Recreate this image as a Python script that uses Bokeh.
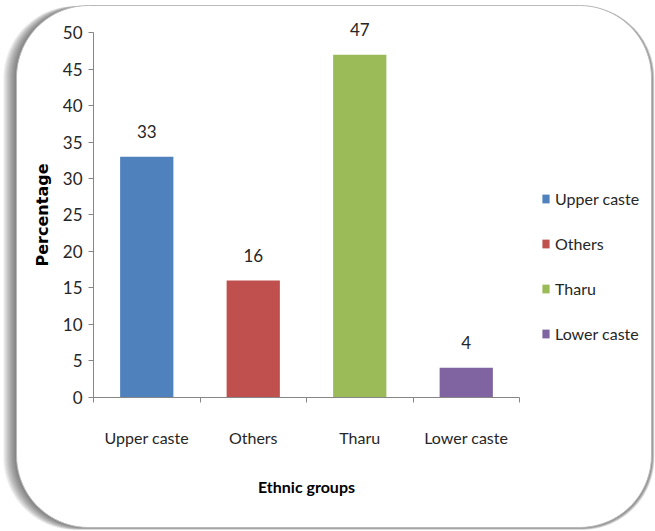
import numpy as np
from bokeh.plotting import figure
from bokeh.models import (Range1d, LinearAxis, FixedTicker, Legend, LegendItem,
                          ColumnDataSource)
from bokeh.core.properties import value
from bokeh.embed import file_html
from bokeh.resources import INLINE

# ---- data -------------------------------------------------------------
groups = ["Upper caste", "Others", "Tharu", "Lower caste"]
percentages = [33, 16, 47, 4]
bar_colors = ["#4F81BD", "#C0504D", "#9BBB59", "#8064A2"]
y_ticks = [0, 5, 10, 15, 20, 25, 30, 35, 40, 45, 50]
y_max = 50

# ---- canvas layout (pixels) -----------------------------------------
W, H = 655, 531
PLOT_L, PLOT_R = 93.0, 519.0      # category axis extent
PLOT_TOP, PLOT_BOT = 32.3, 396.5  # value axis extent (50 .. 0)

FONT = "Lato"
TEXT_COLOR = "#262626"
AXIS_COLOR = "#868686"

p = figure(width=W, height=H, x_range=Range1d(0, W), y_range=Range1d(H, 0),
           min_border=0, output_backend="svg", toolbar_location=None,
           x_axis_location=None, y_axis_location=None,
           outline_line_color=None, background_fill_color="white",
           border_fill_color="white")
p.grid.visible = False

n = len(groups)
cat_w = (PLOT_R - PLOT_L) / n
px_per_unit = (PLOT_BOT - PLOT_TOP) / y_max
p.extra_x_ranges = {"cat": Range1d(-PLOT_L / cat_w, (W - PLOT_L) / cat_w)}
p.extra_y_ranges = {"pct": Range1d(-(H - PLOT_BOT) / px_per_unit, PLOT_BOT / px_per_unit)}


def rounded_rect(l, t, r, b, rad, steps=24):
    xs, ys = [], []
    for cx, cy, a0 in [(r - rad, t + rad, -90), (r - rad, b - rad, 0),
                       (l + rad, b - rad, 90), (l + rad, t + rad, 180)]:
        ang = np.radians(np.linspace(a0, a0 + 90, steps))
        xs += list(cx + rad * np.cos(ang))
        ys += list(cy + rad * np.sin(ang))
    return xs, ys


# ---- rounded chart frame with a soft shadow ---------------------------
FL, FT, FR, FB, RAD = 16, 5, 651, 527, 72
for i in range(12, 0, -1):
    xs, ys = rounded_rect(FL - i * 1.1, FT + 0.5, FR + i * 0.25, FB + i * 0.2, RAD)
    p.patch(xs, ys, fill_color="#303030", fill_alpha=0.065, line_color=None,
            level="underlay")
xs, ys = rounded_rect(FL, FT, FR, FB, RAD)
p.patch(xs, ys, fill_color="white", line_color="#b8b8b8", line_width=1,
        level="underlay")

# ---- bars -------------------------------------------------------------
centers = [i + 0.5 for i in range(n)]
src = ColumnDataSource(dict(x=centers, top=percentages, color=bar_colors,
                            group=groups,
                            label=[str(v) for v in percentages]))
bars = p.vbar(x="x", top="top", bottom=0, width=0.5, source=src,
              fill_color="color", line_color=None,
              x_range_name="cat", y_range_name="pct")

p.text(x="x", y="top", text="label", source=src, x_range_name="cat",
       y_range_name="pct", y_offset=-25, text_align="center",
       text_baseline="middle", text_font=value(FONT),
       text_font_size="17px", text_color=TEXT_COLOR)

# ---- value axis -------------------------------------------------------
yax = LinearAxis(x_range_name="cat", y_range_name="pct", fixed_location=0,
                 bounds=(0, y_max), ticker=FixedTicker(ticks=y_ticks),
                 axis_line_color=AXIS_COLOR, major_tick_line_color=AXIS_COLOR,
                 major_tick_in=0, major_tick_out=5, minor_tick_line_color=None,
                 major_label_text_font=FONT, major_label_text_font_size="17px",
                 major_label_text_color=TEXT_COLOR, major_label_standoff=6,
                 axis_label="Percentage", axis_label_text_font="DejaVu Sans",
                 axis_label_text_font_style="bold",
                 axis_label_text_font_size="16px",
                 axis_label_text_color="#000000", axis_label_standoff=8)
p.add_layout(yax, "left")

# ---- category axis: boundary ticks ------------------------------------
xtick_ax = LinearAxis(x_range_name="cat", y_range_name="pct", fixed_location=0,
                      bounds=(0, n), ticker=FixedTicker(ticks=list(range(n + 1))),
                      axis_line_color=AXIS_COLOR, major_tick_line_color=AXIS_COLOR,
                      major_tick_in=0, major_tick_out=5,
                      minor_tick_line_color=None,
                      major_label_text_color=None)
p.add_layout(xtick_ax, "below")

# ---- category axis: group names ---------------------------------------
xlab_ax = LinearAxis(x_range_name="cat", y_range_name="pct", fixed_location=0,
                     bounds=(0, n), ticker=FixedTicker(ticks=centers),
                     major_label_overrides={c: g for c, g in zip(centers, groups)},
                     axis_line_color=None, major_tick_line_color=None,
                     minor_tick_line_color=None,
                     major_label_text_font=FONT, major_label_text_font_size="16px",
                     major_label_text_color=TEXT_COLOR, major_label_standoff=25,
                     axis_label="Ethnic groups", axis_label_text_font=FONT,
                     axis_label_text_font_style="bold",
                     axis_label_text_font_size="16px",
                     axis_label_text_color="#000000", axis_label_standoff=26)
p.add_layout(xlab_ax, "below")

# ---- legend -----------------------------------------------------------
items = [LegendItem(label=g, renderers=[bars], index=i) for i, g in enumerate(groups)]
legend = Legend(items=items, location=(541, 188), orientation="vertical",
                glyph_width=9, glyph_height=11, label_standoff=5,
                label_height=20, spacing=25, padding=0, margin=0,
                border_line_color=None, background_fill_alpha=0,
                label_text_font=FONT, label_text_font_size="16px",
                label_text_color=TEXT_COLOR, label_text_baseline="middle")
p.add_layout(legend)

open("out.html", "w").write(file_html(p, INLINE))
